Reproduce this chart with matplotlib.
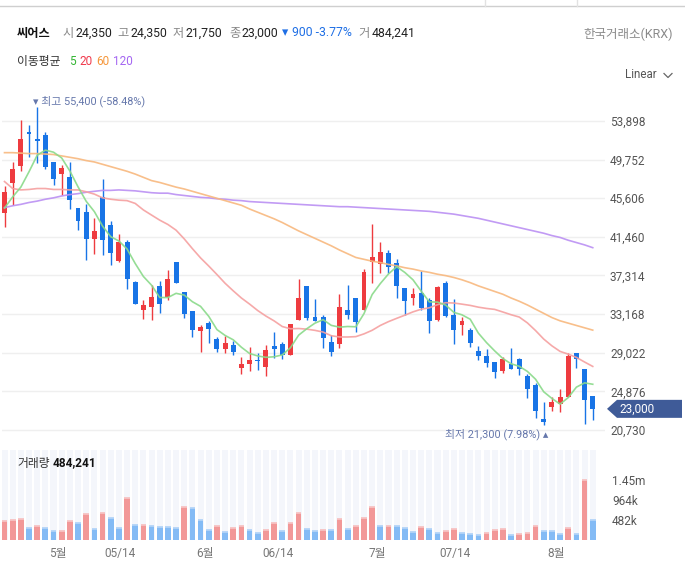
import matplotlib
matplotlib.use('Agg')
import matplotlib.pyplot as plt
import numpy as np
import pandas as pd
from matplotlib.patches import Polygon
from matplotlib.lines import Line2D

# ---------------- data ----------------
opens = [44050, 47250, 49100, 52700, 51950, 52400, 49500, 48250, 47900, 44550,
         44150, 41250, 45750, 42750, 38850, 40900, 36600, 33600, 33950, 36200,
         35050, 38750, 35550, 33450, 31400, 32200, 30500, 29450, 29850, 27400,
         27850, 28250, 27500, 29750, 29950, 28800, 32550, 36200, 32850, 32850,
         30200, 30000, 33600, 34900, 33650, 38750, 38600, 39750, 38650, 35950,
         34950, 35450, 34700, 32500, 36500, 33050, 32050, 31450, 29200, 28650,
         28050, 27050, 27800, 28350, 26550, 25550, 21900, 23250, 23550, 24300,
         29000, 27250, 24350]
highs = [46900, 49500, 54000, 53450, 55400, 52700, 49500, 49150, 49500, 44550,
         44950, 43450, 47700, 43200, 41750, 41100, 36700, 34650, 36300, 36700,
         37950, 38750, 35550, 33450, 32050, 32450, 30700, 30850, 30300, 28550,
         29650, 29000, 29850, 31250, 30200, 32100, 36950, 36200, 34800, 33050,
         30950, 35350, 36300, 34900, 38000, 42850, 40900, 40050, 39100, 35950,
         35950, 37800, 34900, 36200, 36700, 34800, 32850, 31700, 29750, 29400,
         28050, 28550, 29550, 28450, 26750, 25750, 23700, 24300, 25150, 29000,
         29000, 27250, 24350]
lows = [42550, 44900, 48550, 50000, 49350, 48750, 47050, 46000, 44400, 42200,
        39000, 39600, 39500, 38400, 38800, 35900, 34300, 32600, 32550, 33300,
        34650, 36500, 32750, 30750, 29100, 30100, 29050, 28950, 28800, 26700,
        27050, 27150, 26550, 28450, 28350, 28800, 32550, 32550, 32450, 29550,
        28700, 29550, 32650, 31250, 33650, 36500, 37550, 37600, 34950, 33100,
        34100, 33650, 31150, 32450, 32900, 30000, 30950, 29650, 28250, 27500,
        26350, 26850, 27250, 26600, 24200, 22050, 21300, 22800, 22700, 24300,
        27350, 21400, 21750]
closes = [46250, 48750, 51950, 52450, 51700, 49000, 47650, 48850, 45450, 43200,
          41250, 42100, 41100, 39750, 40900, 36950, 34300, 34150, 35050, 34300,
          36950, 36550, 33200, 31500, 31800, 31600, 29450, 30050, 29150, 27800,
          28250, 28150, 29300, 29450, 28800, 32100, 34900, 32750, 32450, 30650,
          29050, 33950, 33100, 32300, 37700, 39300, 39850, 38250, 36200, 34600,
          35350, 33800, 32450, 36100, 33000, 31450, 32450, 30100, 28650, 27900,
          27000, 28350, 27300, 27300, 25150, 22800, 21600, 23750, 24250, 28650,
          28400, 23900, 23000]
volumes = [458000, 474000, 498000, 281000, 329000, 281000, 217000, 217000, 458000, 402000,
           619000, 257000, 643000, 522000, 281000, 1004000, 353000, 353000, 329000, 305000,
           305000, 281000, 787000, 763000, 474000, 233000, 329000, 185000, 281000, 329000,
           233000, 161000, 233000, 402000, 209000, 402000, 643000, 257000, 209000, 233000,
           233000, 498000, 257000, 329000, 522000, 787000, 329000, 329000, 329000, 281000,
           185000, 305000, 257000, 161000, 209000, 257000, 161000, 137000, 112000, 161000,
           233000, 257000, 112000, 137000, 161000, 329000, 209000, 209000, 137000, 281000,
           137000, 1438000, 484241]
# R = red (up) volume bar, B = blue (down) volume bar
volume_dir = list("RRRBRBBRRB" "RBRBBRBRBB" "BBRBBBRBRR" "BBRRBRRBBR" "BRBRRRBRBB"
                  "BRBBRRBBBR" "RRBRRRBBBR" "BRB")

# moving averages whose history lies before the visible window
ma5_lead = [44550, 45750, 46800, 48450]
ma20_lead = [47400, 46650, 46500, 46550, 46650, 46650, 46550, 46550, 46500, 46500,
             46300, 46050, 45650, 45500, 45400, 45350, 45050, 44350, 43800]
ma60 = [50500, 50500, 50450, 50400, 50400, 50350, 50300, 50150, 50000, 49850,
        49650, 49500, 49250, 49000, 48750, 48500, 48200, 47850, 47500, 47300,
        47050, 46800, 46600, 46350, 46100, 45850, 45600, 45350, 45100, 44850,
        44450, 44100, 43750, 43400, 43000, 42550, 42100, 41700, 41300, 40900,
        40500, 40050, 39650, 39250, 39050, 38850, 38700, 38500, 38350, 38150,
        38000, 37800, 37650, 37450, 37300, 37100, 36850, 36550, 36200, 35900,
        35600, 35300, 34900, 34550, 34150, 33700, 33250, 32800, 32450, 32200,
        31950, 31700, 31450]
ma120 = [44600, 44800, 44950, 45150, 45300, 45500, 45650, 45850, 46000, 46100,
         46250, 46350, 46450, 46450, 46500, 46450, 46400, 46300, 46200, 46150,
         46150, 46000, 45900, 45800, 45700, 45650, 45550, 45500, 45400, 45350,
         45250, 45200, 45150, 45100, 45050, 45000, 44950, 44900, 44850, 44800,
         44750, 44700, 44700, 44650, 44600, 44550, 44500, 44450, 44400, 44350,
         44300, 44250, 44200, 44100, 44000, 43900, 43750, 43600, 43450, 43250,
         43050, 42850, 42650, 42450, 42250, 42050, 41850, 41600, 41400, 41100,
         40850, 40600, 40300]

price_ticks = [20730, 24876, 29022, 33168, 37314, 41460, 45606, 49752, 53898]
vol_ticks = [482000, 964000, 1446000]
vol_tick_labels = ['482k', '964k', '1.45m']
date_tick_pos = [6.55, 14.1, 24.5, 33.5, 45.6, 55.1, 67.5]
date_tick_labels = ['5월', '05/14', '6월', '06/14', '7월', '07/14', '8월']

name = '씨어스'
exchange = '한국거래소(KRX)'

# ---------------- figure ----------------
plt.rcParams['font.family'] = ['Roboto', 'Noto Sans CJK KR', 'DejaVu Sans']
W, H = 685, 563
fig = plt.figure(figsize=(W / 100, H / 100), dpi=100)
fig.patch.set_facecolor('white')


def px_rect(l, t, r, b):
    return [l / W, 1 - b / H, (r - l) / W, (b - t) / H]


ax = fig.add_axes(px_rect(2, 88, 605, 445))
axv = fig.add_axes(px_rect(2, 450, 605, 540), sharex=ax)

n = len(closes)
x = np.arange(n)
o = np.array(opens, float)
hi = np.array(highs, float)
lo = np.array(lows, float)
c = np.array(closes, float)

UP = '#ee3b3f'
DOWN = '#1874e6'
up = c >= o
ccol = np.where(up, UP, DOWN)

# MA lines
s = pd.Series(c)
ma5 = s.rolling(5).mean().to_numpy()
ma5[:len(ma5_lead)] = ma5_lead
ma20 = s.rolling(20).mean().to_numpy()
ma20[:len(ma20_lead)] = ma20_lead

# candles
ax.vlines(x, lo, hi, colors=ccol, lw=1.0, zorder=2)
body_h = np.maximum(np.abs(c - o), 90)
ax.bar(x, body_h, bottom=np.minimum(o, c), width=0.6, color=ccol, zorder=2,
       linewidth=0)

ax.plot(x, ma120, color='#bb90f3', lw=1.2, zorder=3, alpha=0.9)
ax.plot(x, ma60, color='#f8b87e', lw=1.2, zorder=3, alpha=0.9)
ax.plot(x, ma20, color='#f5a0a0', lw=1.2, zorder=3, alpha=0.9)
ax.plot(x, ma5, color='#8ada8a', lw=1.2, zorder=3, alpha=0.9)

ax.set_xlim(-0.306, 73.5)
ax.set_ylim(19120, 57440)
ax.set_yticks(price_ticks)
ax.set_yticklabels([f'{t:,}' for t in price_ticks])
ax.yaxis.tick_right()
ax.tick_params(axis='y', length=0, pad=3.6, labelsize=8.5, labelcolor='#555555')
ax.tick_params(axis='x', length=0, labelbottom=False)
ax.grid(axis='y', color='#efefef', lw=1.0, zorder=0)
ax.set_axisbelow(True)
for sp in ax.spines.values():
    sp.set_visible(False)

# high / low annotations
ih = int(np.argmax(hi))
il = int(np.argmin(lo))
last = c[-1]
ann_col = '#6577ab'
ann_fam = ['Roboto', 'DejaVu Sans', 'Noto Sans CJK KR']
ax.annotate(f'▾ 최고 {hi[ih]:,.0f} ({(last - hi[ih]) / hi[ih] * 100:.2f}%)',
            xy=(ih, hi[ih]), xytext=(-4, 6), textcoords='offset pixels',
            ha='left', va='center', fontsize=7.8, color=ann_col, family=ann_fam)
ax.annotate(f'최저 {lo[il]:,.0f} ({(last - lo[il]) / lo[il] * 100:.2f}%) ▴',
            xy=(il, lo[il]), xytext=(5, -10), textcoords='offset pixels',
            ha='right', va='center', fontsize=7.8, color=ann_col, family=ann_fam)

# volume panel
vtop = 2.169e6
axv.bar(x, vtop, width=0.74, color='#f4f6fb', zorder=0, linewidth=0)
vcol = ['#f29898' if d == 'R' else '#84bbf5' for d in volume_dir]
capcol = ['#f7c3c3' if d == 'R' else '#b3d4f8' for d in volume_dir]
axv.bar(x, volumes, width=0.7, color=vcol, zorder=1, linewidth=0)
axv.hlines(volumes, x - 0.35, x + 0.35, colors=capcol, lw=1.3, zorder=2)
axv.set_ylim(0, vtop)
axv.set_yticks(vol_ticks)
axv.set_yticklabels(vol_tick_labels)
axv.yaxis.tick_right()
axv.tick_params(axis='y', length=0, pad=5, labelsize=8.5, labelcolor='#555555')
axv.set_xticks(date_tick_pos)
axv.set_xticklabels(date_tick_labels)
axv.tick_params(axis='x', length=0, pad=5, labelsize=8.5, labelcolor='#777777')
for sp in axv.spines.values():
    sp.set_visible(False)

# last price tag
fig.canvas.draw()
yd = ax.transData.transform((0, last))[1]
yf = fig.transFigure.inverted().transform((0, yd))[1]
hh = 9 / H
tag = Polygon([(607 / W, yf), (617 / W, yf + hh), (682 / W, yf + hh),
               (682 / W, yf - hh), (617 / W, yf - hh)], closed=True,
              transform=fig.transFigure, facecolor='#3f5b98', edgecolor='none')
fig.add_artist(tag)
fig.text(619 / W, yf, f'{last:,.0f}', color='white', fontsize=8.5,
         va='center', ha='left')

# header
def t(xp, yp, s, **kw):
    kw.setdefault('fontsize', 8.8)
    kw.setdefault('va', 'center')
    fig.text(xp / W, 1 - yp / H, s, **kw)

prev = c[-2]
chg = last - prev
t(17, 33, name, fontweight='bold', color='#111111')
t(62.5, 33, '시', color='#888888')
t(75, 33, f'{o[-1]:,.0f}', color='#222222')
t(117.5, 33, '고', color='#888888')
t(130.5, 33, f'{hi[-1]:,.0f}', color='#222222')
t(173, 33, '저', color='#888888')
t(186, 33, f'{lo[-1]:,.0f}', color='#222222')
t(229, 33, '종', color='#888888')
t(242, 33, f'{last:,.0f}', color='#222222')
t(282, 33, '▾', color='#1f6fe5', fontsize=9, family=['DejaVu Sans'])
t(291.5, 33, f'{abs(chg):,.0f} {chg / prev * 100:.2f}%', color='#1f6fe5')
t(358, 33, '거', color='#888888')
t(371.5, 33, f'{volumes[-1]:,}', color='#222222')
t(673, 34, exchange, color='#8a8a8a', ha='right', fontsize=9)

t(17, 61, '이동평균', color='#333333', fontsize=8.5)
t(69, 61, '5', color='#33b533', fontsize=8.5)
t(79.5, 61, '20', color='#f0394c', fontsize=8.5)
t(96.5, 61, '60', color='#f5963a', fontsize=8.5)
t(113, 61, '120', color='#a466f2', fontsize=8.5)

t(625, 75, 'Linear', color='#555555', fontsize=8.3)
fig.add_artist(Line2D([664 / W, 668 / W, 672 / W],
                      [1 - 73.5 / H, 1 - 77.5 / H, 1 - 73.5 / H],
                      transform=fig.transFigure, color='#666666', lw=0.9))

t(17, 463, '거래량', color='#333333', fontsize=8.5)
t(52.5, 463, f'{volumes[-1]:,}', color='#111111', fontsize=8.5, fontweight='bold')

# top UI separator lines
fig.add_artist(Line2D([0, 1], [1 - 6 / H, 1 - 6 / H], transform=fig.transFigure,
                      color='#cfcfcf', lw=1))
for xv in (485, 577):
    fig.add_artist(Line2D([xv / W, xv / W], [1, 1 - 6 / H], transform=fig.transFigure,
                          color='#e2e2e2', lw=1))

fig.savefig('out.png', dpi=100, facecolor='white')
